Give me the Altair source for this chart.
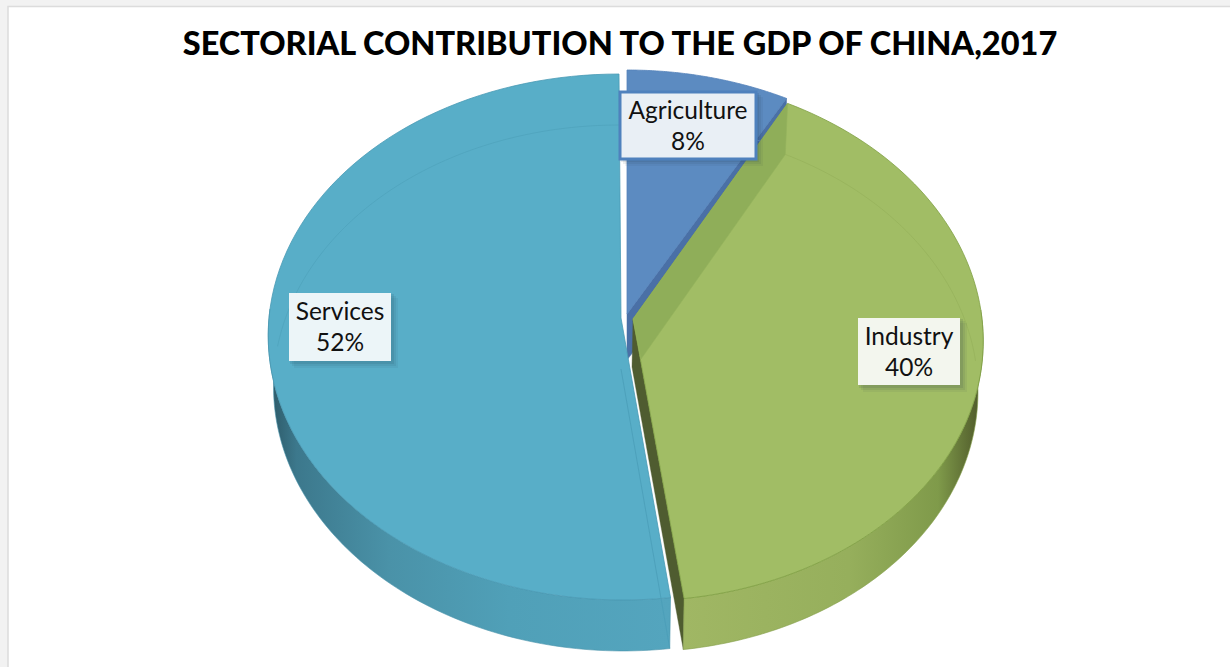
import math
import altair as alt
import pandas as pd

# Sector shares of GDP, clockwise from twelve o'clock
SECTORS = ["Agriculture", "Industry", "Services"]
SHARES = [8, 40, 52]
TITLE = "SECTORIAL CONTRIBUTION TO THE GDP OF CHINA,2017"

W, H = 1230, 667

# Disc geometry: vertical radius, perspective strength, thickness
RY, PERSP = 261.6, 0.0722
DEPTH, FLOOR_SCALE = 51.0, 0.985

# Each exploded slice: centre x, centre y, horizontal radius, sideways lean
SLICES = {
    "Agriculture": (627, 314, 352, 0),
    "Industry": (633, 319, 349, 4),
    "Services": (621, 318, 352, 2),
}
# Label box: left, top, right, bottom
BOXES = {
    "Agriculture": (620, 92, 756, 159),
    "Industry": (858, 318, 960, 385),
    "Services": (289, 293, 391, 361),
}
BOX_FILL = {"Agriculture": "#e9eff5", "Industry": "#f3f6ee", "Services": "#ecf5f8"}

SCALE_X = alt.Scale(domain=[0, W], nice=False, zero=False)
SCALE_Y = alt.Scale(domain=[H, 0], nice=False, zero=False)
X = alt.X("x:Q", scale=SCALE_X, axis=None)
Y = alt.Y("y:Q", scale=SCALE_Y, axis=None)


def centre(name):
    return SLICES[name][:2]


def rim(name, deg, floor=False):
    """Project a point of the slice's rim, angle in degrees clockwise from the top."""
    ax, ay, rx, lean = SLICES[name]
    t = math.radians(deg)
    u, v = math.sin(t), math.cos(t)
    s = 1 / (1 + PERSP * v)
    x, y = ax + rx * u * s - lean * v, ay - RY * v * s
    if floor:
        x = ax + (x - ax) * FLOOR_SCALE
        y += DEPTH
    return x, y


def arc(name, a, b, floor=False, n=90):
    return [rim(name, a + (b - a) * i / n, floor) for i in range(n + 1)]


def shape(points, closed=True, **style):
    pts = list(points) + ([points[0]] if closed else [])
    df = pd.DataFrame({"x": [p[0] for p in pts], "y": [p[1] for p in pts], "i": range(len(pts))})
    return alt.Chart(df).mark_line(interpolate="linear", **style).encode(x=X, y=Y, order=alt.Order("i:Q"))


def grad(*stops):
    return alt.Gradient(
        gradient="linear", x1=0, x2=1, y1=0, y2=0,
        stops=[alt.GradientStop(offset=o, color=c) for o, c in stops],
    )


# Angular extent of each slice derived from the shares
spans = {}
start = 0.0
for name, share in zip(SECTORS, SHARES):
    spans[name] = (start, start + share * 3.6)
    start += share * 3.6

layers = []

# Page frame
frame = alt.Chart(pd.DataFrame({"a": [0]})).mark_rect(
    fill="white", stroke="#dcdcdc", strokeWidth=1.5
).encode(x=alt.value(8), x2=alt.value(W + 20), y=alt.value(6.5), y2=alt.value(H + 20))
layers.append(frame)

# Agriculture: cut face first, then the top
a0, a1 = spans["Agriculture"]
c = centre("Agriculture")
e = rim("Agriculture", a1)
layers.append(shape([e, c, (c[0], c[1] + 46), (e[0], e[1] + 51)], fill="#4a70a6", stroke="#4a70a6", strokeWidth=0.5))
layers.append(shape([c] + arc("Agriculture", a0, a1), fill="#5c8bc1", stroke="#5583ba", strokeWidth=0.8))
layers.append(shape(arc("Agriculture", a0, a1, floor=True), closed=False, stroke="#6e9acb", strokeWidth=0.8))

# Services: outer wall, top, and the far rim showing through
s0, s1 = spans["Services"]
c = centre("Services")
wall = arc("Services", s0, 272) + arc("Services", 272, s0, floor=True)
layers.append(shape(wall, fill=grad((0, "#2c5765"), (0.07, "#3c788c"), (0.3, "#4a92a8"), (0.6, "#50a0b8"), (1, "#54a5be")),
                    stroke="#4a93ab", strokeWidth=0.6))
layers.append(shape([c] + arc("Services", s0, s1), fill="#58aec8", stroke="#4a9ab5", strokeWidth=0.8))
layers.append(shape(arc("Services", 275, s1, floor=True), closed=False, stroke="#4fa3bd", strokeWidth=0.8))
layers.append(shape([(c[0], c[1] + DEPTH), rim("Services", s0, floor=True)], closed=False, stroke="#4a9db8", strokeWidth=0.8))

# Industry: dark cut face, outer wall, top, far rim
i0, i1 = spans["Industry"]
c = centre("Industry")
endp = rim("Industry", i1)
endf = rim("Industry", i1, floor=True)
layers.append(shape([c, endp, endf, (c[0] - 1, c[1] + 48)], fill="#4f5c30", stroke="#4f5c30", strokeWidth=0.4))
wall = arc("Industry", 88, i1) + arc("Industry", i1, 88, floor=True)
layers.append(shape(wall, fill=grad((0, "#a0b764"), (0.55, "#96af5c"), (0.85, "#7f9a4a"), (0.97, "#56632f"), (1, "#4a5530")),
                    stroke="#84a04a", strokeWidth=0.6))
layers.append(shape([c] + arc("Industry", i0, i1), fill="#a1bd65", stroke="#7fa043", strokeWidth=0.8))
st = rim("Industry", i0)
stf = rim("Industry", i0, floor=True)
layers.append(shape([st, c, (c[0] + 8, c[1] + 40), (stf[0], stf[1])], fill="#8fae59", stroke="#93b15d", strokeWidth=0.6))
layers.append(shape(arc("Industry", i0, 88, floor=True), closed=False, stroke="#97b35c", strokeWidth=0.8))

# Labels: soft drop shadow, box, two lines of text
label_rows = []
for name, share in zip(SECTORS, SHARES):
    l, t, r, b = BOXES[name]
    label_rows.append({"name": name, "pct": f"{share}%", "l": l, "t": t, "r": r, "b": b,
                       "cx": (l + r) / 2, "y1": t + 20, "y2": t + 50.5})
labels = pd.DataFrame(label_rows)
XB = alt.X("l:Q", scale=SCALE_X, axis=None)
YB = alt.Y("t:Q", scale=SCALE_Y, axis=None)
for off, op in ((7, 0.06), (5, 0.08), (3, 0.1)):
    shifted = labels.assign(l=labels.l + off - 2, r=labels.r + off, t=labels.t + off - 2, b=labels.b + off)
    layers.append(alt.Chart(shifted).mark_rect(fill="#1f3540", opacity=op).encode(
        x=XB, x2="r:Q", y=YB, y2="b:Q"))
for name in SECTORS:
    row = labels[labels.name == name]
    style = {"stroke": "#4f81bd", "strokeWidth": 3} if name == "Agriculture" else {}
    layers.append(alt.Chart(row).mark_rect(fill=BOX_FILL[name], **style).encode(
        x=XB, x2="r:Q", y=YB, y2="b:Q"))

FONT = "Lato"
for field, ypos in (("name", "y1"), ("pct", "y2")):
    layers.append(alt.Chart(labels).mark_text(font=FONT, fontSize=24.5, color="#111111", align="center", baseline="middle").encode(
        x=alt.X("cx:Q", scale=SCALE_X, axis=None), y=alt.Y(f"{ypos}:Q", scale=SCALE_Y, axis=None), text=f"{field}:N"))

# Heading
layers.append(alt.Chart(pd.DataFrame({"t": [TITLE]})).mark_text(
    font=FONT, fontSize=32.5, fontWeight=900, color="black", align="center", baseline="middle"
).encode(x=alt.value(620), y=alt.value(45), text="t:N"))

chart = alt.layer(*layers).properties(
    width=W, height=H, padding=0, autosize=alt.AutoSizeParams(type="none"), background="#f2f2f2"
).configure_view(stroke=None)

chart.save("out.html", embed_options={"renderer": "svg", "actions": False})
